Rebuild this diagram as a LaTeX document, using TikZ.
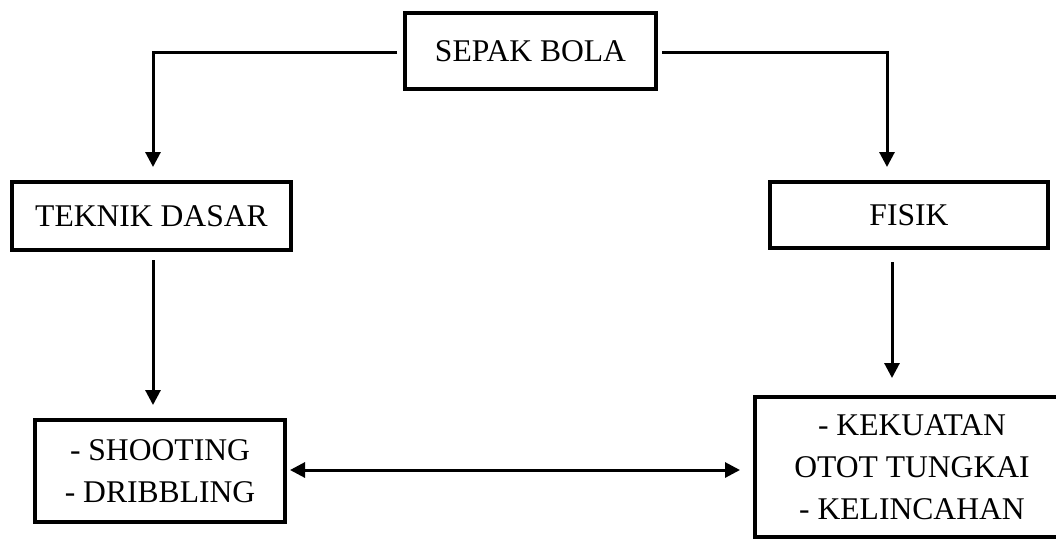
\documentclass[tikz,border=0pt]{standalone}
\usepackage{fontspec}
\setmainfont{Liberation Serif}
\usetikzlibrary{arrows.meta}
\begin{document}
\begin{tikzpicture}[x=0.5pt,y=-0.5pt,
  box/.style={draw=black,line width=2pt,rectangle,inner sep=0pt,align=center,
    font=\fontsize{15.8}{21}\selectfont},
  arr/.style={line width=1.5pt,-{Triangle[length=7.5pt,width=7.5pt]}},
  darr/.style={line width=1.5pt,{Triangle[length=7.5pt,width=7.5pt]}-{Triangle[length=7.5pt,width=7.5pt]}}]
\useasboundingbox (0,0) rectangle (1056,538);
\node[box,minimum width=125.5pt,minimum height=38pt] (sepak) at (530.5,51) {SEPAK BOLA};
\node[box,minimum width=139.5pt,minimum height=34pt] (teknik) at (151.5,216) {TEKNIK DASAR};
\node[box,minimum width=139pt,minimum height=33pt] (fisik) at (909,215) {FISIK};
\node[box,minimum width=125pt,minimum height=51pt] (shoot) at (160,471) {- SHOOTING\\- DRIBBLING};
\node[box,minimum width=157pt,minimum height=70pt] (kek) at (912,467) {- KEKUATAN\\ OTOT TUNGKAI\\- KELINCAHAN};
\draw[arr,shorten <=3pt,shorten >=6.5pt] ([yshift=-0.5pt]sepak.west) -| ([xshift=0.75pt]teknik.north);
\draw[arr,shorten <=2pt,shorten >=6.5pt] ([yshift=-0.5pt]sepak.east) -| ([xshift=-11pt]fisik.north);
\draw[arr,shorten <=4pt,shorten >=6.5pt] ([xshift=0.75pt]teknik.south) -- ([xshift=0.75pt]teknik.south |- shoot.north);
\draw[arr,shorten <=6pt,shorten >=8.5pt] ([xshift=-8.5pt]fisik.south) -- ([xshift=-8.5pt]fisik.south |- kek.north);
\draw[darr,shorten <=1.5pt,shorten >=6.5pt] ([yshift=0.5pt]shoot.east) -- ([yshift=0.5pt]shoot.east -| kek.west);
\end{tikzpicture}
\end{document}
